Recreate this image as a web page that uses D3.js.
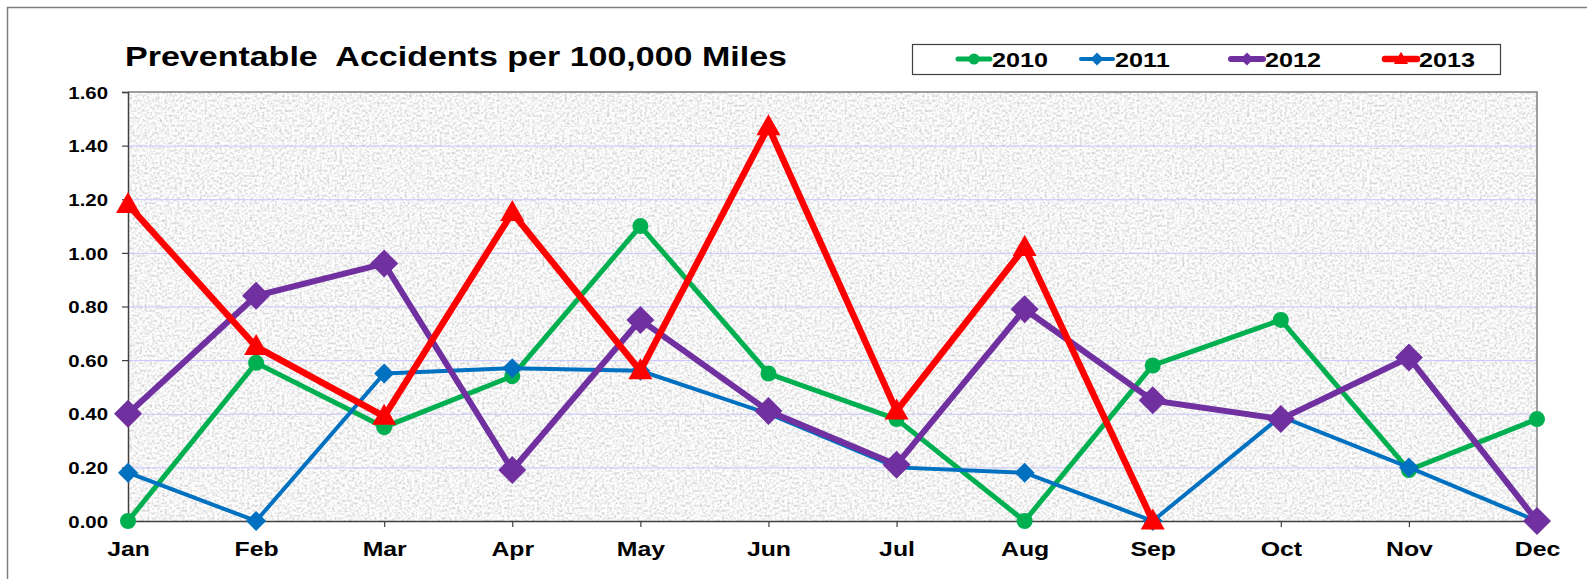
<!DOCTYPE html>
<html><head><meta charset="utf-8">
<script src="https://cdn.jsdelivr.net/npm/d3@7"></script>
<style>html,body{margin:0;padding:0;background:#fff;overflow:hidden;}svg{display:block;}</style>
</head><body>
<svg id="chart" width="1587" height="579"></svg>
<script>
const months = ["Jan","Feb","Mar","Apr","May","Jun","Jul","Aug","Sep","Oct","Nov","Dec"];
const yTicks = [0, 0.2, 0.4, 0.6, 0.8, 1.0, 1.2, 1.4, 1.6];
const years = ["2010","2011","2012","2013"];
const v2010 = [0.00, 0.59, 0.35, 0.54, 1.10, 0.55, 0.38, 0.00, 0.58, 0.75, 0.19, 0.38];
const v2011 = [0.18, 0.00, 0.55, 0.57, 0.56, 0.40, 0.20, 0.18, 0.00, 0.39, 0.20, 0.00];
const v2012 = [0.40, 0.84, 0.96, 0.19, 0.75, 0.41, 0.21, 0.79, 0.45, 0.38, 0.61, 0.00];
const v2013 = [1.18, 0.65, 0.39, 1.15, 0.56, 1.47, 0.41, 1.02, 0.00];
const colors = ["#00b050","#0070c0","#7030a0","#ff0000"];
const title = "Preventable  Accidents per 100,000 Miles";

const series = [
  {name: years[0], values: v2010, color: colors[0], width: 5, marker: "circle", size: 8},
  {name: years[1], values: v2011, color: colors[1], width: 4, marker: "diamond", size: 10},
  {name: years[2], values: v2012, color: colors[2], width: 6, marker: "diamond", size: 14},
  {name: years[3], values: v2013, color: colors[3], width: 6.5, marker: "triangle", size: 12}
];

const FONT = "Liberation Sans, Arial, sans-serif";
const svg = d3.select("#chart");
const L = 128, R = 1537, T = 92, B = 521;
const x = d3.scalePoint().domain(months).range([L, R]);
const y = d3.scaleLinear().domain([0, 1.6]).range([B, T]);

function stretch(sel, k) {
  sel.each(function() {
    const w = this.getComputedTextLength();
    d3.select(this).attr("textLength", w * k).attr("lengthAdjust", "spacingAndGlyphs");
  });
}

// outer frame (top & left)
svg.append("line").attr("x1",7).attr("x2",1587).attr("y1",7.5).attr("y2",7.5).attr("stroke","#7f7f7f").attr("stroke-width",1.5);
svg.append("line").attr("x1",7.5).attr("x2",7.5).attr("y1",7).attr("y2",579).attr("stroke","#7f7f7f").attr("stroke-width",1.5);

// texture filter
const defs = svg.append("defs");
const f = defs.append("filter").attr("id","granite").attr("x",0).attr("y",0).attr("width",1).attr("height",1);
f.append("feTurbulence").attr("type","fractalNoise").attr("baseFrequency","0.4").attr("numOctaves",2).attr("seed",11).attr("result","n");
f.append("feColorMatrix").attr("in","n").attr("type","matrix")
  .attr("values","0.85 0 0 0 0.48  0.85 0 0 0 0.48  0.85 0 0 0 0.48  0 0 0 0 1").attr("result","g");
f.append("feComposite").attr("in","g").attr("in2","SourceGraphic").attr("operator","in");

svg.append("rect").attr("x",L).attr("y",T).attr("width",R-L).attr("height",B-T)
  .attr("fill","#e6e6e6").attr("filter","url(#granite)");

// gridlines
svg.append("g").selectAll("line").data(yTicks.filter(d => d > 0 && d < 1.6)).join("line")
  .attr("x1",L).attr("x2",R).attr("y1",d=>y(d)+0.5).attr("y2",d=>y(d)+0.5)
  .attr("stroke","#c6c6ff").attr("stroke-width",1);

// plot border top/right
svg.append("path").attr("d",`M${L},${T}H${R}V${B}`).attr("fill","none").attr("stroke","#808080").attr("stroke-width",1.5);

// axes
const yAxis = d3.axisLeft(y).tickValues(yTicks).tickFormat(d3.format(".2f")).tickSize(6).tickPadding(14);
const gy = svg.append("g").attr("transform",`translate(${L},0)`).call(yAxis);
gy.select(".domain").attr("stroke","#404040").attr("stroke-width",1.5);
gy.selectAll(".tick line").attr("stroke","#404040").attr("stroke-width",1.2);
gy.selectAll("text").attr("font-family",FONT).attr("font-weight","bold")
  .attr("font-size","17px").attr("fill","#000").attr("dy","0.36em");
stretch(gy.selectAll("text"), 1.2);

const xAxis = d3.axisBottom(x).tickSize(6).tickPadding(15);
const gx = svg.append("g").attr("transform",`translate(0,${B})`).call(xAxis);
gx.select(".domain").attr("stroke","#404040").attr("stroke-width",1.5);
gx.selectAll(".tick line").attr("stroke","#404040").attr("stroke-width",1.2);
gx.selectAll("text").attr("font-family",FONT).attr("font-weight","bold")
  .attr("font-size","20px").attr("fill","#000");
stretch(gx.selectAll("text"), 1.24);

// markers
function markerPath(type, s) {
  if (type === "circle") return d3.symbol(d3.symbolCircle, Math.PI*s*s)();
  if (type === "diamond") return `M0,${-s}L${s},0L0,${s}L${-s},0Z`;
  const h = s*1.75, w = s*1.0;
  return `M0,${-h*0.6}L${w},${h*0.4}L${-w},${h*0.4}Z`;
}

const line = d3.line().x((d,i)=>x(months[i])).y(d=>y(d));
series.forEach(s => {
  const g = svg.append("g");
  g.append("path").attr("d", line(s.values)).attr("fill","none").attr("stroke",s.color)
    .attr("stroke-width",s.width).attr("stroke-linejoin","miter");
  g.selectAll("path.m").data(s.values).join("path").attr("class","m")
    .attr("transform",(d,i)=>`translate(${x(months[i])},${y(d)})`)
    .attr("d", markerPath(s.marker, s.size)).attr("fill",s.color);
});

// title
svg.append("text").attr("x",125).attr("y",66).attr("font-family",FONT)
  .attr("font-weight","bold").attr("font-size","28px").attr("textLength",662).attr("lengthAdjust","spacingAndGlyphs")
  .attr("xml:space","preserve").style("white-space","pre").text(title);

// legend
svg.append("rect").attr("x",912.5).attr("y",44.5).attr("width",588).attr("height",30)
  .attr("fill","#fff").attr("stroke","#404040").attr("stroke-width",1.2);
const legX = [958, 1081, 1231, 1385];
series.forEach((s,i) => {
  const g = svg.append("g").attr("transform",`translate(${legX[i]},59)`);
  g.append("line").attr("x1",0).attr("x2",32).attr("y1",0).attr("y2",0).attr("stroke",s.color)
    .attr("stroke-width",Math.max(4,s.width)).attr("stroke-linecap","round");
  g.append("path").attr("transform","translate(16,0)").attr("d",markerPath(s.marker, s.marker==="triangle"?7:(s.marker==="circle"?5.5:6.5))).attr("fill",s.color);
  const t = g.append("text").attr("x",34).attr("y",8).attr("font-family",FONT)
    .attr("font-weight","bold").attr("font-size","21px").text(s.name);
  stretch(t, 1.2);
});
</script>
</body></html>
